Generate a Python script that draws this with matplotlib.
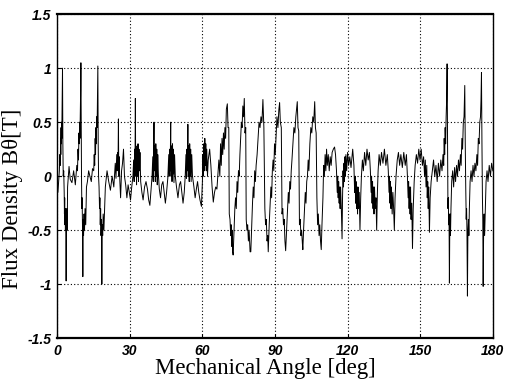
import numpy as np
import matplotlib
matplotlib.use("Agg")
import matplotlib.pyplot as plt

# (angle [deg], flux density [T]), one list per stretch
seg_a = [  # 0-20 deg, three big slot spikes
    (0.0, 0.0), (0.3, -0.15), (0.6, -0.05), (0.9, 0.05), (1.1, 0.2), (1.3, 0.1),
    (1.4, 0.35), (1.5, 0.2), (1.6, 0.45), (1.7, 0.3), (1.8, 0.5), (1.9, 0.35),
    (2.0, 0.55), (2.1, 0.75), (2.2, 1.0), (2.35, 0.3), (2.5, 0.0), (2.7, 0.05),
    (2.9, -0.15), (3.0, -0.35), (3.1, -0.2), (3.2, -0.45), (3.3, -0.3), (3.4, -0.5),
    (3.5, -0.35), (3.6, -0.55), (3.7, -0.97), (3.85, -0.4), (4.0, -0.3), (4.15, -0.5),
    (4.3, -0.1), (4.6, 0.0), (4.9, 0.09), (5.4, -0.03), (6.1, -0.06), (6.8, 0.05),
    (7.5, -0.08), (8.1, 0.1), (8.4, 0.05), (8.6, 0.25), (8.8, 0.15), (9.0, 0.4),
    (9.1, 0.3), (9.3, 0.5), (9.4, 0.35), (9.55, 0.55), (9.7, 0.8), (9.8, 1.05),
    (9.95, 0.3), (10.05, 0.0), (10.2, -0.3), (10.3, -0.2), (10.45, -0.45), (10.6, -0.93),
    (10.75, -0.4), (10.9, -0.55), (11.1, -0.35), (11.3, -0.5), (11.5, -0.3), (11.8, -0.45),
    (12.1, -0.1), (12.5, -0.05), (13.0, 0.05), (13.5, 0.0), (14.1, -0.05), (14.6, 0.07),
    (15.1, 0.05), (15.3, 0.2), (15.5, 0.1), (15.7, 0.35), (15.85, 0.2), (16.0, 0.45),
    (16.15, 0.3), (16.3, 0.55), (16.5, 0.45), (16.65, 0.75), (16.8, 1.02), (16.95, 0.3),
    (17.1, 0.0), (17.3, -0.1), (17.5, -0.3), (17.65, -0.2), (17.8, -0.45), (17.95, -0.3),
    (18.1, -0.55), (18.3, -0.4), (18.45, -1.0), (18.6, -0.45), (18.8, -0.55), (19.0, -0.35),
    (19.3, -0.5), (19.6, -0.3), (19.9, -0.1),
]

seg_b = [  # 20-62 deg, small positive slot clusters
    (20.6, 0.05), (21.3, -0.05), (22.0, -0.13), (22.7, 0.0), (23.4, -0.1), (24.0, 0.12),
    (24.3, -0.02), (24.6, 0.2), (24.8, 0.05), (25.0, 0.22), (25.15, 0.1), (25.3, 0.53),
    (25.45, 0.0), (25.6, 0.18), (25.9, -0.05), (26.2, -0.2), (26.6, 0.05), (27.0, 0.12),
    (27.4, 0.25), (27.8, 0.0), (28.3, -0.08), (28.8, -0.2), (29.3, -0.08), (29.8, -0.15),
    (30.3, -0.22), (30.8, -0.1), (31.3, 0.0), (31.6, 0.15), (31.8, -0.05), (32.0, 0.25),
    (32.15, 0.05), (32.3, 0.72), (32.45, 0.0), (32.6, 0.25), (32.8, -0.08), (33.0, 0.28),
    (33.2, 0.0), (33.4, 0.3), (33.6, -0.05), (33.8, 0.25), (34.0, 0.05), (34.2, 0.22),
    (34.5, -0.05), (35.0, -0.15), (35.5, -0.22), (36.1, -0.1), (36.7, -0.05), (37.3, -0.12),
    (37.8, -0.22), (38.3, -0.27), (38.8, -0.12), (39.2, 0.0), (39.5, 0.18), (39.7, -0.05),
    (39.85, 0.25), (40.0, 0.5), (40.15, 0.05), (40.35, 0.28), (40.55, -0.05), (40.75, 0.3),
    (40.95, 0.0), (41.15, 0.25), (41.35, -0.08), (41.55, 0.2), (41.8, 0.02), (42.2, -0.12),
    (42.7, -0.2), (43.2, -0.08), (43.7, -0.05), (44.2, -0.15), (44.7, -0.25), (45.2, -0.15),
    (45.7, -0.02), (46.1, 0.2), (46.3, 0.0), (46.5, 0.25), (46.7, 0.05), (46.9, 0.5),
    (47.05, 0.0), (47.25, 0.28), (47.45, -0.05), (47.65, 0.3), (47.85, 0.02), (48.05, 0.25),
    (48.25, -0.06), (48.5, 0.2), (48.8, 0.0), (49.3, -0.1), (49.9, -0.2), (50.5, -0.08),
    (51.0, -0.05), (51.5, -0.15), (52.0, -0.25), (52.5, -0.15), (52.9, 0.0), (53.2, 0.2),
    (53.4, -0.02), (53.6, 0.25), (53.8, 0.05), (54.0, 0.48), (54.15, 0.0), (54.35, 0.28),
    (54.55, -0.05), (54.75, 0.3), (54.95, 0.0), (55.15, 0.25), (55.35, -0.05), (55.6, 0.2),
    (55.9, 0.0), (56.5, -0.1), (57.0, -0.2), (57.5, -0.12), (58.0, -0.05), (58.5, -0.15),
    (59.0, -0.22), (59.6, -0.28), (60.0, -0.05), (60.2, 0.2), (60.4, 0.0), (60.6, 0.3),
    (60.8, 0.05), (61.0, 0.35), (61.2, 0.1), (61.4, 0.3), (61.6, 0.05), (61.8, 0.25),
    (62.1, 0.0),
]

seg_c = [  # 62-112 deg, large swings
    (62.4, 0.15), (63.0, 0.25), (63.5, 0.1), (64.0, -0.1), (64.5, -0.24), (65.0, -0.15),
    (65.5, -0.1), (66.0, -0.12), (66.5, 0.05), (66.8, 0.15), (67.2, 0.0), (67.5, 0.3),
    (67.8, 0.1), (68.1, 0.35), (68.4, 0.2), (68.7, 0.4), (69.0, 0.25), (69.3, 0.45),
    (69.6, 0.35), (69.9, 0.62), (70.3, 0.67), (70.6, 0.45), (70.9, 0.45), (71.1, -0.35),
    (71.4, -0.4), (71.7, -0.55), (71.9, -0.45), (72.1, -0.65), (72.3, -0.5), (72.5, -0.7),
    (72.7, -0.73), (73.0, -0.55), (73.4, -0.3), (73.7, -0.2), (74.0, -0.3), (74.3, -0.05),
    (74.6, -0.15), (74.9, 0.05), (75.2, 0.0), (75.5, 0.2), (75.8, 0.35), (76.1, 0.5),
    (76.4, 0.45), (76.7, 0.65), (77.0, 0.55), (77.3, 0.72), (77.6, 0.4), (77.9, 0.45),
    (78.1, -0.4), (78.4, -0.5), (78.7, -0.45), (79.0, -0.6), (79.3, -0.5), (79.7, -0.7),
    (80.0, -0.7), (80.3, -0.5), (80.7, -0.25), (81.0, -0.1), (81.3, -0.2), (81.6, 0.05),
    (81.9, -0.05), (82.2, 0.1), (82.6, 0.2), (83.0, 0.35), (83.4, 0.5), (83.8, 0.45),
    (84.2, 0.55), (84.6, 0.5), (85.0, 0.71), (85.4, 0.45), (85.8, -0.3), (86.1, -0.45),
    (86.4, -0.4), (86.7, -0.6), (87.0, -0.55), (87.2, -0.7), (87.6, -0.45), (88.0, -0.25),
    (88.3, -0.1), (88.6, -0.2), (88.9, 0.05), (89.2, 0.15), (89.5, 0.05), (89.8, 0.3),
    (90.1, 0.2), (90.4, 0.35), (90.8, 0.55), (91.2, 0.45), (91.6, 0.62), (91.9, 0.68),
    (92.2, 0.5), (92.6, 0.45), (92.9, -0.35), (93.2, -0.3), (93.5, -0.45), (93.8, -0.4),
    (94.1, -0.6), (94.4, -0.69), (94.8, -0.5), (95.2, -0.3), (95.5, -0.15), (95.8, -0.25),
    (96.1, -0.05), (96.4, -0.12), (96.7, 0.05), (97.0, 0.15), (97.4, 0.3), (97.8, 0.45),
    (98.2, 0.4), (98.6, 0.55), (98.9, 0.62), (99.2, 0.69), (99.5, 0.45), (99.8, 0.42),
    (100.1, -0.45), (100.4, -0.4), (100.7, -0.55), (101.0, -0.5), (101.3, -0.62), (101.5, -0.68),
    (101.8, -0.5), (102.2, -0.3), (102.5, -0.15), (102.8, -0.25), (103.1, -0.05), (103.4, 0.0),
    (103.7, 0.15), (104.0, 0.05), (104.4, 0.3), (104.8, 0.45), (105.2, 0.4), (105.6, 0.55),
    (106.0, 0.5), (106.4, 0.69), (106.7, 0.45), (107.0, 0.4), (107.3, -0.2), (107.6, -0.45),
    (107.9, -0.35), (108.2, -0.55), (108.5, -0.45), (108.8, -0.6), (109.1, -0.68), (109.4, -0.45),
    (109.8, -0.2), (110.1, 0.1), (110.4, 0.0), (110.7, 0.2), (111.0, 0.05), (111.3, 0.25),
    (111.6, 0.1), (112.0, 0.2),
]

seg_d = [  # 112-156 deg, small negative slot clusters
    (112.4, 0.05), (112.8, 0.18), (113.2, 0.1), (113.6, 0.22), (114.1, 0.25), (114.6, 0.27),
    (115.0, 0.2), (115.4, 0.05), (115.7, -0.15), (115.9, 0.0), (116.1, -0.2), (116.3, -0.05),
    (116.5, -0.25), (116.7, -0.1), (116.9, -0.3), (117.1, -0.1), (117.4, -0.3), (117.7, -0.58),
    (117.9, -0.2), (118.1, 0.05), (118.3, -0.1), (118.5, 0.12), (118.7, -0.05), (118.9, 0.18),
    (119.1, 0.0), (119.3, 0.2), (119.6, 0.05), (120.0, 0.22), (120.4, 0.1), (120.9, 0.18),
    (121.4, 0.08), (122.1, 0.25), (122.6, 0.1), (122.9, -0.15), (123.1, 0.0), (123.3, -0.25),
    (123.5, -0.05), (123.7, -0.3), (123.9, -0.1), (124.1, -0.35), (124.3, -0.1), (124.5, -0.3),
    (124.8, -0.15), (125.1, -0.5), (125.4, -0.2), (125.7, 0.0), (126.1, 0.15), (126.5, 0.05),
    (127.0, 0.22), (127.5, 0.1), (128.0, 0.25), (128.5, 0.15), (129.0, 0.22), (129.4, 0.05),
    (129.7, -0.15), (129.9, 0.0), (130.1, -0.25), (130.3, -0.05), (130.5, -0.3), (130.7, -0.1),
    (130.9, -0.35), (131.1, -0.1), (131.4, -0.3), (131.7, -0.2), (132.0, -0.5), (132.3, -0.15),
    (132.6, 0.05), (133.0, 0.2), (133.5, 0.1), (134.0, 0.22), (134.6, 0.12), (135.2, 0.25),
    (135.8, 0.1), (136.4, 0.2), (136.8, 0.05), (137.1, -0.15), (137.3, 0.0), (137.5, -0.25),
    (137.7, -0.05), (137.9, -0.3), (138.1, -0.1), (138.4, -0.35), (138.7, -0.15), (139.0, -0.3),
    (139.3, -0.5), (139.6, -0.2), (140.0, 0.0), (140.5, 0.15), (141.0, 0.22), (141.5, 0.1),
    (142.0, 0.2), (142.6, 0.08), (143.2, 0.22), (143.8, 0.1), (144.3, 0.2), (144.7, 0.0),
    (145.0, -0.2), (145.2, -0.05), (145.4, -0.3), (145.6, -0.1), (145.8, -0.35), (146.0, -0.1),
    (146.2, -0.4), (146.5, -0.25), (146.8, -0.67), (147.1, -0.3), (147.5, -0.05), (147.9, 0.1),
    (148.4, 0.2), (148.9, 0.12), (149.4, 0.25), (149.9, 0.15), (150.4, 0.25), (150.9, 0.1),
    (151.4, 0.18), (151.8, 0.0), (152.1, 0.15), (152.4, -0.1), (152.7, 0.1), (152.9, -0.2),
    (153.1, -0.05), (153.3, -0.3), (153.5, -0.1), (153.8, -0.52), (154.1, -0.2), (154.5, -0.05),
    (155.0, 0.05), (155.5, 0.15), (156.0, 0.0),
]

seg_e = [  # 156-180 deg, three big slot spikes again
    (156.5, 0.1), (157.0, -0.05), (157.5, 0.12), (158.0, 0.0), (158.5, 0.15), (159.0, 0.05),
    (159.4, 0.2), (159.7, 0.1), (159.9, 0.35), (160.1, 0.2), (160.3, 0.45), (160.5, 0.3),
    (160.7, 0.55), (160.9, 0.7), (161.1, 1.04), (161.3, 0.2), (161.45, -0.3), (161.6, -0.2),
    (161.75, -0.45), (161.9, -0.35), (162.05, -0.99), (162.2, -0.5), (162.35, -0.35), (162.5, -0.55),
    (162.7, -0.3), (163.0, -0.05), (163.4, 0.05), (163.8, -0.1), (164.2, 0.08), (164.6, -0.05),
    (165.0, 0.1), (165.4, 0.0), (165.8, 0.15), (166.2, 0.05), (166.6, 0.2), (166.9, 0.1),
    (167.2, 0.35), (167.5, 0.25), (167.8, 0.5), (168.1, 0.55), (168.4, 0.84), (168.6, 0.3),
    (168.8, -0.1), (169.0, -0.4), (169.15, -0.3), (169.3, -0.5), (169.5, -1.11), (169.7, -0.5),
    (169.9, -0.4), (170.1, -0.55), (170.3, -0.3), (170.6, -0.05), (171.0, 0.05), (171.4, -0.05),
    (171.8, 0.1), (172.2, 0.0), (172.6, 0.12), (173.0, 0.05), (173.4, 0.2), (173.7, 0.1),
    (174.0, 0.35), (174.3, 0.3), (174.6, 0.5), (174.9, 0.55), (175.1, 0.7), (175.3, 0.96),
    (175.5, 0.3), (175.7, -0.2), (175.85, -0.4), (176.0, -1.02), (176.2, -0.5), (176.4, -0.35),
    (176.6, -0.55), (176.9, -0.3), (177.2, -0.05), (177.6, 0.05), (178.0, -0.05), (178.5, 0.1),
    (179.0, 0.0), (179.5, 0.12), (180.0, 0.05),
]

x_ticks = [0, 30, 60, 90, 120, 150, 180]
y_ticks = [-1.5, -1, -0.5, 0, 0.5, 1, 1.5]
y_tick_labels = ["-1.5", "-1", "-0.5", "0", "0.5", "1", "1.5"]

trace = np.array(seg_a + seg_b + seg_c + seg_d + seg_e)

fig = plt.figure(figsize=(5.06, 3.83), dpi=100)
ax = fig.add_axes([0.113, 0.117, 0.861, 0.846])

ax.plot(trace[:, 0], trace[:, 1], color="black", lw=0.7)

ax.set_xlim(0, 180)
ax.set_ylim(-1.5, 1.5)
ax.set_xticks(x_ticks)
ax.set_yticks(y_ticks)
ax.set_yticklabels(y_tick_labels)
ax.grid(True, color="black", linestyle=(0, (1, 2)), linewidth=0.8)
ax.tick_params(direction="in", length=3, width=0.8, pad=4)
for lab in ax.get_xticklabels() + ax.get_yticklabels():
    lab.set_fontfamily("Liberation Sans")
    lab.set_fontstyle("italic")
    lab.set_fontweight("bold")
    lab.set_fontsize(10)

for side in ["left", "right"]:
    ax.spines[side].set_linewidth(1.0)
for side in ["top", "bottom"]:
    ax.spines[side].set_linewidth(1.6)

ax.set_xlabel("Mechanical Angle [deg]", fontfamily="Liberation Serif", fontsize=16.5)
ax.set_ylabel("Flux Density B\u03b8[T]", fontfamily="Liberation Serif", fontsize=16.5)
ax.xaxis.set_label_coords(0.477, -0.093)
ax.yaxis.set_label_coords(-0.103, 0.43)
ax.xaxis.label.set_va("center")
ax.yaxis.label.set_va("center")

fig.savefig("out.png", dpi=100, facecolor="w")
